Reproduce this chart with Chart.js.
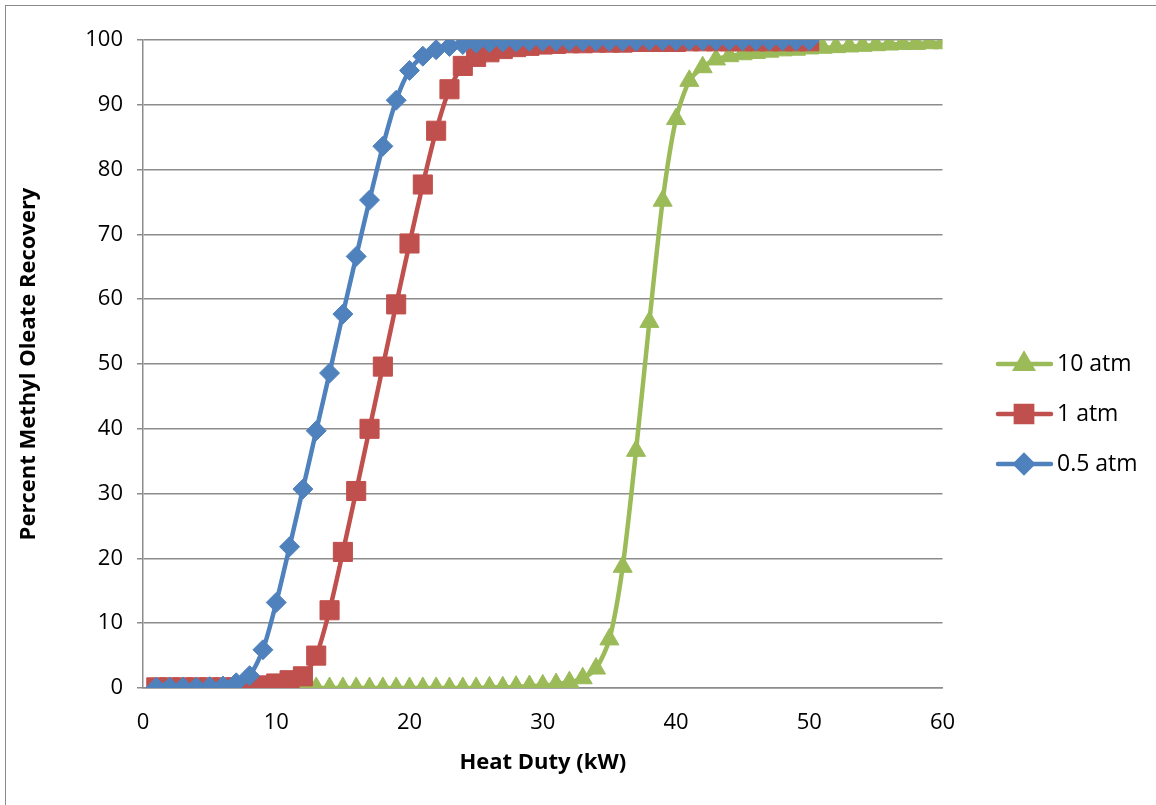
<!DOCTYPE html>
<html>
<head>
<meta charset="utf-8">
<script src="https://cdn.jsdelivr.net/npm/chart.js@4"></script>
<style>
  html, body { margin: 0; padding: 0; background: #fff; overflow: hidden; }
  #marco {
    position: absolute; left: 5px; top: 5px;
    width: 1160px; height: 810px;
    border: 1.5px solid #8a8a8a;
  }
  #caja { position: absolute; left: 0; top: 0; width: 1150px; height: 798px; }
</style>
</head>
<body>
<div id="marco"><div id="caja"><canvas id="grafico"></canvas></div></div>
<script>
// Heat Duty (kW)
const duty05 = [1,2,3,4,5,6,7,8,9,10,11,12,13,14,15,16,17,18,19,20,21,22,23,24,25,26,27,28,29,30,31,32,33,34,35,36,37,38,39,40,41,42,43,44,45,46,47,48,49,50]
const duty1 = [1,2,3,4,5,6,7,8,9,10,11,12,13,14,15,16,17,18,19,20,21,22,23,24,25,26,27,28,29,30,31,32,33,34,35,36,37,38,39,40,41,42,43,44,45,46,47,48,49,50]
const duty10 = [1,2,3,4,5,6,7,8,9,10,11,12,13,14,15,16,17,18,19,20,21,22,23,24,25,26,27,28,29,30,31,32,33,34,35,36,37,38,39,40,41,42,43,44,45,46,47,48,49,50,51,52,53,54,55,56,57,58,59,60]

// Percent Methyl Oleate Recovery
const recup05 = [0.1,0.1,0.1,0.1,0.2,0.3,0.8,1.9,5.9,13.2,21.8,30.7,39.7,48.6,57.7,66.6,75.3,83.6,90.7,95.3,97.5,98.5,99.0,99.3,99.5,99.6,99.7,99.7,99.8,99.8,99.8,99.8,99.8,99.8,99.8,99.8,99.8,99.9,99.9,99.9,99.9,99.9,99.9,99.9,99.9,99.9,99.9,99.9,99.9,99.9]
const recup1 = [0.1,0.1,0.1,0.1,0.1,0.1,0.1,0.2,0.4,0.7,1.2,1.8,5.0,12.0,21.0,30.4,40.0,49.6,59.2,68.6,77.7,86.0,92.4,96.0,97.4,98.1,98.6,98.9,99.1,99.3,99.4,99.5,99.5,99.6,99.6,99.6,99.7,99.7,99.7,99.7,99.8,99.8,99.8,99.8,99.8,99.8,99.8,99.8,99.8,99.8]
const recup10 = [0,0,0,0,0,0,0,0,0,0,0,0,0,0,0,0,0,0,0,0,0,0,0,0,0,0.1,0.1,0.2,0.3,0.4,0.6,0.9,1.5,3.0,7.5,18.7,36.6,56.5,75.2,87.8,93.7,95.8,97.0,97.5,97.8,98.0,98.2,98.4,98.5,98.7,98.8,98.9,99.0,99.1,99.2,99.3,99.4,99.4,99.5,99.5]

const nombres = ['10 atm', '1 atm', '0.5 atm']
const colores = ['#9bbb59', '#c0504d', '#4f81bd']
const estilos = ['triangle', 'rect', 'rectRot']
const radios = [11, 13.5, 10]

const xTicks = [0, 10, 20, 30, 40, 50, 60]
const yTicks = [0, 10, 20, 30, 40, 50, 60, 70, 80, 90, 100]

function puntos(xs, ys) {
    return xs.map((x, i) => ({ x: x, y: ys[i] }))
}

// icono de leyenda: linea con marcador, desplazado a la derecha de su caja
function iconoLeyenda(i) {
    const c = document.createElement('canvas')
    c.width = 93
    c.height = 28
    const ctx = c.getContext('2d')
    ctx.strokeStyle = colores[i]
    ctx.fillStyle = colores[i]
    ctx.lineWidth = 4.5
    ctx.lineCap = 'round'
    ctx.beginPath()
    ctx.moveTo(37, 14)
    ctx.lineTo(90, 14)
    ctx.stroke()
    Chart.helpers.drawPoint(ctx, { pointStyle: estilos[i], radius: radios[i] * 0.85, borderWidth: 1 }, 63, 14)
    ctx.fill()
    return c
}

const datasets = [
    { label: nombres[0], data: puntos(duty10, recup10), order: 3 },
    { label: nombres[1], data: puntos(duty1, recup1), order: 2 },
    { label: nombres[2], data: puntos(duty05, recup05), order: 1 }
].map((d, i) => Object.assign(d, {
    borderColor: colores[i],
    backgroundColor: colores[i],
    pointBackgroundColor: colores[i],
    pointBorderColor: colores[i],
    pointStyle: estilos[i],
    pointRadius: radios[i],
    pointBorderWidth: 1,
    borderWidth: 4.5,
    tension: 0.25
}))

const grisEje = '#8c8c8c'
const fuente = "'Open Sans', 'Liberation Sans', sans-serif"

const config = {
    type: 'line',
    data: { datasets: datasets },
    options: {
        responsive: true,
        maintainAspectRatio: false,
        animation: false,
        layout: { padding: { top: 34, bottom: 16, left: 0, right: 0 } },
        plugins: {
            tooltip: { enabled: false },
            legend: {
                position: 'right',
                labels: {
                    usePointStyle: true,
                    pointStyleWidth: 76,
                    padding: 27,
                    color: '#000',
                    font: { family: fuente, size: 23 },
                    generateLabels: chart => chart.data.datasets.map((d, i) => ({
                        text: d.label,
                        datasetIndex: i,
                        pointStyle: iconoLeyenda(i),
                        fillStyle: colores[i],
                        strokeStyle: colores[i],
                        lineWidth: 0,
                        hidden: false
                    }))
                }
            }
        },
        scales: {
            x: {
                type: 'linear',
                min: 0,
                max: 60,
                afterBuildTicks: axis => { axis.ticks = xTicks.map(v => ({ value: v })) },
                afterFit: axis => { axis.height = 100 },
                grid: { drawOnChartArea: false, drawTicks: false },
                border: { color: grisEje, width: 1.5 },
                ticks: { color: '#000', padding: 22, font: { family: fuente, size: 22 } },
                title: {
                    display: true,
                    text: 'Heat Duty (kW)',
                    color: '#000',
                    font: { family: fuente, size: 22, weight: 'bold' },
                    padding: { top: 0, bottom: 12 }
                }
            },
            y: {
                min: 0,
                max: 100,
                afterBuildTicks: axis => { axis.ticks = yTicks.map(v => ({ value: v })) },
                afterFit: axis => { axis.width = 137 },
                grid: { color: grisEje, lineWidth: 1.5, tickLength: 6 },
                border: { color: grisEje, width: 1.5 },
                ticks: { color: '#000', padding: 14, font: { family: fuente, size: 22 } },
                title: {
                    display: true,
                    text: 'Percent Methyl Oleate Recovery',
                    color: '#000',
                    font: { family: fuente, size: 22, weight: 'bold' },
                    padding: { top: 10, bottom: 0 }
                }
            }
        }
    }
}

const grafico = new Chart(document.getElementById('grafico'), config)

// ancho fijo de la leyenda para que el area del grafico termine donde en la referencia
const fitOriginal = grafico.legend.fit
grafico.legend.fit = function () {
    fitOriginal.call(this)
    this.width = 213.5
}
grafico.update()
</script>
</body>
</html>
